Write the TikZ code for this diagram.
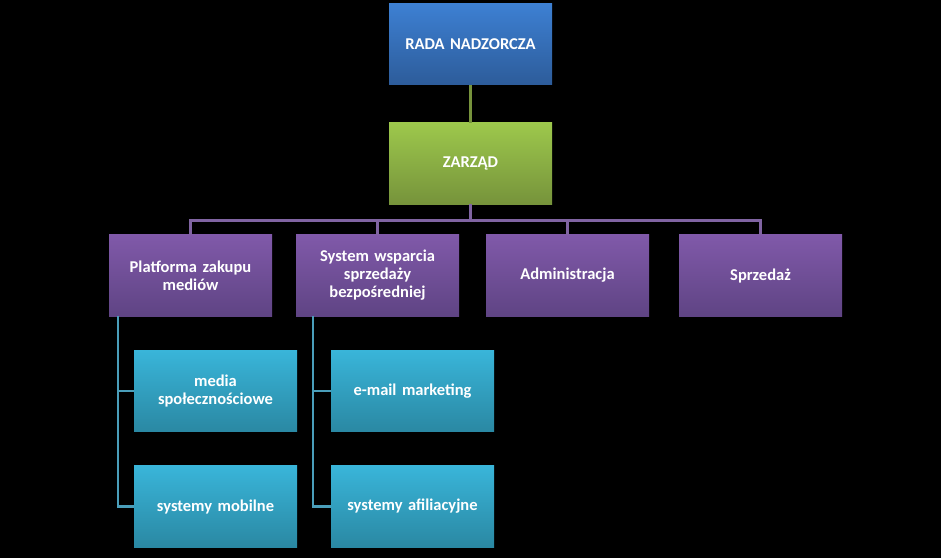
\documentclass[tikz,border=0pt]{standalone}
\usepackage{fontspec}
\setmainfont{Carlito}
\usetikzlibrary{calc,positioning}
\definecolor{blueT}{HTML}{3D80D3}
\definecolor{blueB}{HTML}{2D5C9A}
\definecolor{greenT}{HTML}{9DC84C}
\definecolor{greenB}{HTML}{76933B}
\definecolor{violetT}{HTML}{8059A9}
\definecolor{violetB}{HTML}{5F4484}
\definecolor{cyanT}{HTML}{39B5D9}
\definecolor{cyanB}{HTML}{2A88A3}
\definecolor{greenLine}{HTML}{77933C}
\definecolor{violetLine}{HTML}{8064A2}
\definecolor{cyanLine}{HTML}{4A9EBA}
\tikzset{
    box/.style={rectangle, minimum width=163pt, minimum height=81.5pt, inner sep=0pt,
        text width=155pt, align=center, text=white,
        font=\fontsize{16.5}{18}\selectfont\bfseries}, % common look of all boxes
    topbox/.style={box, top color=blueT, bottom color=blueB},
    boardbox/.style={box, top color=greenT, bottom color=greenB},
    unitbox/.style={box, top color=violetT, bottom color=violetB},
    subbox/.style={box, top color=cyanT, bottom color=cyanB},
    link/.style={line width=2.2pt},
}

\begin{document}
\begin{tikzpicture}[on grid]
   \fill[black] (0,0) rectangle (941pt,-558pt);
   \useasboundingbox (0,0) rectangle (941pt,-558pt);
   \node[topbox] (rada) at (470.5pt,-44pt) {RADA NADZORCZA};
   \node[boardbox] (zarzad) [below=119.5pt of rada] {ZARZĄD};
   \node[unitbox] (u_2) [below left=112pt and 93pt of zarzad] {System wsparcia\\ sprzedaży\\ bezpośredniej};
   \node[unitbox] (u_1) [left=187pt of u_2] {Platforma zakupu\\ mediów};
   \node[unitbox] (u_3) [below right=112pt and 97pt of zarzad] {Administracja};
   \node[unitbox] (u_4) [right=193pt of u_3] {Sprzedaż};
   \node[subbox] (s_1) [below right=115.5pt and 25pt of u_1] {media\\ społecznościowe};
   \node[subbox] (s_2) [below=115.5pt of s_1] {systemy mobilne};
   \node[subbox] (s_3) [below right=115.5pt and 35pt of u_2] {e-mail marketing};
   \node[subbox] (s_4) [below=115.5pt of s_3] {systemy afiliacyjne};
    \draw[link, greenLine] (rada) -- (zarzad);
    \foreach \u in {u_1,u_2,u_3,u_4}
      \draw[link, violetLine] (zarzad.south) -- ++(0,-16pt) -| (\u.north);
    % brackets under the units
    \draw[link, cyanLine] ([xshift=9pt]u_1.south west) |- (s_1.west);
    \draw[link, cyanLine] ([xshift=9pt]u_1.south west) |- (s_2.west);
    \draw[link, cyanLine] ([xshift=17pt]u_2.south west) |- (s_3.west);
    \draw[link, cyanLine] ([xshift=17pt]u_2.south west) |- (s_4.west);
\end{tikzpicture}
\end{document}
